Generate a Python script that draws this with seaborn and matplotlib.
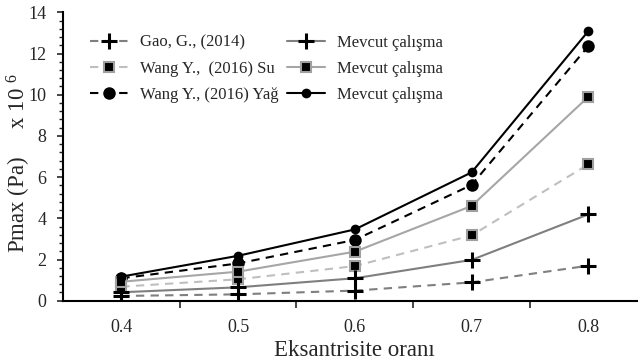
import matplotlib
matplotlib.use("Agg")
import matplotlib.pyplot as plt
import seaborn as sns
import pandas as pd
from matplotlib.ticker import MultipleLocator, FixedLocator

categories = ["0.4", "0.5", "0.6", "0.7", "0.8"]
gao = [0.23, 0.31, 0.49, 0.89, 1.70]
mevcut_1 = [0.41, 0.65, 1.09, 1.98, 4.19]
wang_su = [0.68, 1.04, 1.68, 3.17, 6.62]
mevcut_2 = [0.92, 1.41, 2.38, 4.60, 9.90]
wang_yag = [1.09, 1.81, 2.95, 5.62, 12.36]
mevcut_3 = [1.17, 2.18, 3.46, 6.23, 13.09]

labels = ["Gao, G., (2014)", "Wang Y.,  (2016) Su", "Wang Y., (2016) Yağ",
          "Mevcut çalışma", "Mevcut çalışma", "Mevcut çalışma"]

sns.set_theme(style="white")
plt.rcParams["font.family"] = ["Liberation Serif", "DejaVu Serif"]
plt.rcParams["mathtext.fontset"] = "custom"
plt.rcParams["mathtext.rm"] = "Liberation Serif"
plt.rcParams["mathtext.it"] = "Liberation Serif"

fig = plt.figure(figsize=(6.38, 3.63), dpi=100)
ax = fig.add_axes([0.0987, 0.1716, 0.915, 0.7945])

series = [
    (gao, dict(color="#7f7f7f", ls=(0, (4, 3)), marker="+", ms=11, mew=2.2, mec="black", mfc="black")),
    (wang_su, dict(color="#bfbfbf", ls=(0, (4, 3)), marker="s", ms=7, mew=1.5, mec="#a0a0a0", mfc="black")),
    (wang_yag, dict(color="black", ls=(0, (4, 3)), marker="o", ms=9, mew=0, mec="black", mfc="black")),
    (mevcut_1, dict(color="#7f7f7f", ls="-", marker="+", ms=11, mew=2.2, mec="black", mfc="black")),
    (mevcut_2, dict(color="#a6a6a6", ls="-", marker="s", ms=7, mew=1.5, mec="#a0a0a0", mfc="black")),
    (mevcut_3, dict(color="black", ls="-", marker="o", ms=7, mew=0, mec="black", mfc="black")),
]

for (vals, st), lab in zip(series, labels):
    df = pd.DataFrame({"x": categories, "y": vals})
    sns.lineplot(data=df, x="x", y="y", ax=ax, label=lab, lw=1.5,
                 color=st["color"], linestyle=st["ls"], marker=st["marker"],
                 markersize=st["ms"], markeredgewidth=st["mew"],
                 markeredgecolor=st["mec"], markerfacecolor=st["mfc"])

ax.set_xlim(-0.5, 4.5)
ax.set_ylim(0, 14)

# category axis: labels at centers, tick marks at boundaries
ax.xaxis.set_major_locator(FixedLocator(range(5)))
ax.set_xticklabels(categories)
ax.xaxis.set_minor_locator(FixedLocator([0.5, 1.5, 2.5, 3.5, 4.5]))
ax.tick_params(axis="x", which="major", length=0, labelsize=13, pad=13)
ax.tick_params(axis="x", which="minor", length=5, width=1.2, direction="out", bottom=True)

ax.yaxis.set_major_locator(MultipleLocator(2))
ax.yaxis.set_minor_locator(MultipleLocator(0.4))
ax.tick_params(axis="y", which="major", length=4, width=1.2, direction="out", left=True, labelsize=13, pad=8)
ax.tick_params(axis="y", which="minor", length=3, width=1.0, direction="out", left=True)

for s in ["top", "right"]:
    ax.spines[s].set_visible(False)
for s in ["left", "bottom"]:
    ax.spines[s].set_color("black")
    ax.spines[s].set_linewidth(1.5)

ax.set_xlabel("Eksantrisite oranı", fontsize=16.5, labelpad=3)
ax.set_ylabel("Pmax (Pa)     x 10 $^{6}$", fontsize=16.5)
ax.yaxis.set_label_coords(-0.051, 0.476)

leg = ax.legend(ncol=2, loc="upper left", bbox_to_anchor=(0.035, 0.945), frameon=False,
                fontsize=12, handlelength=2.3, handletextpad=0.7, labelspacing=0.6,
                columnspacing=0.5, borderaxespad=0)

fig.savefig("out.png", dpi=100)
